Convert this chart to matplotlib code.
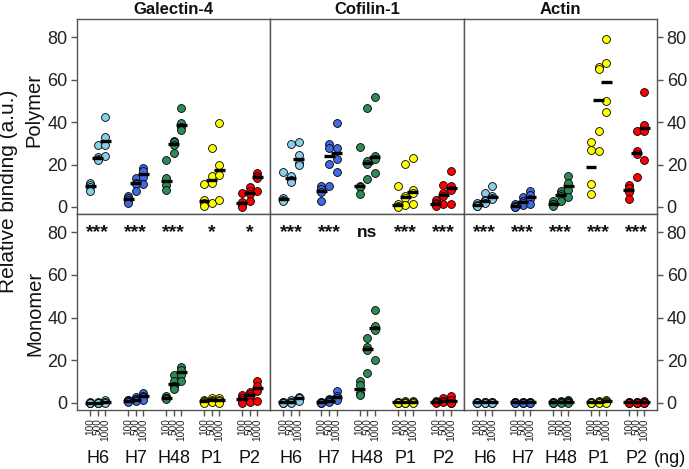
import numpy as np
import matplotlib
matplotlib.use("Agg")
import matplotlib.pyplot as plt

plt.rcParams['font.family'] = ['Liberation Sans', 'DejaVu Sans']

proteins = ["Galectin-4", "Cofilin-1", "Actin"]
groups = ["H6", "H7", "H48", "P1", "P2"]
doses = ["100", "500", "1000"]
colors = ["#87CEEB", "#4169E1", "#2E8B57", "#FFFF00", "#FF0000"]

# each panel: 15 entries (group x dose), 4 replicates each
gal4_polymer = [
    [11.5, 10.5, 9.5, 7.3], [29.2, 23.5, 22.5, 22.0], [42.5, 33.0, 29.0, 24.0],
    [5.3, 4.0, 3.5, 1.9], [13.6, 11.5, 11.0, 7.7], [18.3, 17.0, 14.2, 11.0],
    [22.0, 13.5, 10.5, 8.0], [31.0, 30.5, 29.0, 25.6], [46.7, 39.4, 37.8, 36.3],
    [10.9, 3.5, 1.9, 0.3], [27.7, 14.4, 11.3, 1.9], [39.4, 19.8, 15.2, 3.4],
    [6.6, 2.4, 1.0, 0.2], [9.2, 7.3, 6.3, 2.7], [15.9, 14.5, 13.5, 7.3],
]
cof1_polymer = [
    [16.4, 4.2, 3.4, 3.0], [29.7, 14.4, 12.8, 11.6], [30.8, 24.5, 20.5, 19.8],
    [9.7, 8.5, 7.0, 2.7], [29.7, 27.7, 20.3, 9.7], [39.4, 28.0, 22.5, 16.4],
    [28.4, 10.0, 9.4, 6.1], [46.7, 21.5, 20.3, 13.1], [51.6, 24.0, 22.6, 15.9],
    [9.7, 1.6, 0.6, 0.0], [20.2, 5.0, 4.4, 0.8], [23.0, 7.8, 6.7, 1.4],
    [3.4, 1.8, 1.4, 0.3], [10.5, 6.6, 5.0, 1.6], [17.0, 9.7, 8.1, 1.6],
]
actin_polymer = [
    [1.8, 1.0, 0.6, 0.3], [6.6, 3.2, 2.8, 2.0], [9.8, 5.0, 4.4, 3.9],
    [1.6, 0.5, 0.1, 0.0], [4.7, 2.7, 2.1, 1.1], [7.4, 5.5, 3.9, 1.6],
    [2.7, 1.6, 1.2, 0.6], [7.7, 6.2, 5.4, 2.8], [14.5, 11.5, 8.1, 4.6],
    [30.5, 27.0, 11.0, 6.0], [66.0, 65.0, 36.0, 26.5], [79.0, 68.0, 50.0, 44.5],
    [10.3, 8.8, 7.0, 3.8], [35.9, 26.2, 25.0, 14.1], [54.0, 38.8, 36.0, 22.0],
]
gal4_monomer = [
    [0.4, 0.2, 0.1, 0.0], [0.5, 0.2, 0.1, 0.0], [1.6, 0.6, 0.4, 0.1],
    [1.6, 1.2, 1.0, 0.5], [2.8, 1.8, 1.4, 1.0], [4.7, 3.4, 2.8, 1.6],
    [3.1, 2.5, 2.1, 1.9], [13.3, 10.1, 7.9, 6.7], [16.8, 15.6, 13.1, 10.1],
    [1.6, 1.0, 0.6, 0.2], [2.3, 1.4, 1.0, 0.3], [2.3, 1.3, 1.1, 0.0],
    [3.6, 2.2, 1.6, 0.0], [5.0, 4.3, 3.1, 0.3], [10.1, 8.1, 5.5, 0.8],
]
cof1_monomer = [
    [0.5, 0.3, 0.2, 0.1], [1.2, 0.6, 0.4, 0.2], [2.8, 2.4, 2.2, 0.8],
    [0.5, 0.3, 0.2, 0.0], [1.9, 1.2, 1.0, 0.6], [5.5, 3.4, 2.2, 1.6],
    [10.1, 8.3, 4.8, 3.6], [30.4, 26.0, 24.8, 14.0], [43.4, 35.9, 34.3, 20.3],
    [0.6, 0.3, 0.2, 0.1], [0.7, 0.4, 0.2, 0.1], [1.0, 0.5, 0.3, 0.1],
    [0.8, 0.4, 0.3, 0.1], [2.3, 1.0, 0.8, 0.3], [3.4, 1.6, 0.2, 0.0],
]
actin_monomer = [
    [0.5, 0.3, 0.2, 0.1], [0.5, 0.3, 0.2, 0.1], [0.5, 0.3, 0.2, 0.1],
    [0.5, 0.3, 0.2, 0.1], [0.5, 0.3, 0.2, 0.1], [0.5, 0.3, 0.2, 0.1],
    [0.5, 0.3, 0.2, 0.1], [0.8, 0.5, 0.3, 0.1], [1.2, 0.8, 0.5, 0.2],
    [0.5, 0.3, 0.2, 0.1], [0.8, 0.5, 0.3, 0.1], [1.6, 1.0, 0.5, 0.2],
    [0.5, 0.3, 0.2, 0.1], [0.6, 0.4, 0.2, 0.1], [0.7, 0.4, 0.2, 0.1],
]
sig_gal4 = ["***", "***", "***", "*", "*"]
sig_cof1 = ["***", "***", "ns", "***", "***"]
sig_actin = ["***", "***", "***", "***", "***"]

polymer = [gal4_polymer, cof1_polymer, actin_polymer]
monomer = [gal4_monomer, cof1_monomer, actin_monomer]
sigs = [sig_gal4, sig_cof1, sig_actin]

W, H = 689, 469
fig = plt.figure(figsize=(W / 100, H / 100), dpi=100)

frame_col = "#555555"
lefts = [77, 270, 464]
rights = [270, 464, 657]
rows = [(19, 214), (214, 410)]
xlim = (-1.75, 23.7)
ylim = (-3.3, 88.5)

def xpos(g, d):
    return 5 * g + d

for r, (ytop, ybot) in enumerate(rows):
    for c in range(3):
        ax = fig.add_axes([lefts[c] / W, 1 - ybot / H, (rights[c] - lefts[c]) / W, (ybot - ytop) / H])
        ax.set_xlim(*xlim)
        ax.set_ylim(*ylim)
        for s in ax.spines.values():
            s.set_color(frame_col)
            s.set_linewidth(1.0)
        data = polymer[c] if r == 0 else monomer[c]
        for g in range(5):
            for d in range(3):
                vals = data[g * 3 + d]
                x = xpos(g, d)
                ax.scatter([x] * len(vals), vals, s=32, c=colors[g], edgecolors="black",
                           linewidths=0.6, zorder=3, clip_on=False)
                med = np.median(vals)
                ax.plot([x - 0.72, x + 0.72], [med, med], color="black", lw=2.4,
                        solid_capstyle="butt", zorder=4)
        yt = [0, 20, 40, 60, 80]
        ax.set_yticks(yt)
        ax.set_yticklabels([str(v) for v in yt])
        ax.tick_params(axis="y", colors=frame_col, labelcolor="#222222", labelsize=13,
                       length=4, width=1, direction="out", pad=3)
        if c == 0:
            ax.tick_params(axis="y", left=True, labelleft=True, right=False, labelright=False)
        elif c == 2:
            ax.tick_params(axis="y", left=False, labelleft=False, right=True, labelright=True)
        else:
            ax.tick_params(axis="y", left=False, labelleft=False)
        xt = [xpos(g, d) for g in range(5) for d in range(3)]
        if r == 1:
            ax.set_xticks(xt)
            ax.set_xticklabels(doses * 5, rotation=90, fontsize=7.2, color="#222222")
            ax.tick_params(axis="x", colors=frame_col, labelcolor="#222222", length=4,
                           width=1, pad=2)
            for g in range(5):
                ax.text(xpos(g, 1), 80, sigs[c][g], ha="center", va="center",
                        fontsize=14 if sigs[c][g] != "ns" else 12.5,
                        fontweight="bold", color="#111111")
            for g in range(5):
                xd = ax.transData.transform((xpos(g, 1), 0))[0]
                fig.text(xd / W, 1 - 458 / H, groups[g], ha="center", va="center",
                         fontsize=13, color="#111111")
        else:
            ax.set_xticks([])
            fig.text((lefts[c] + rights[c]) / 2 / W, 1 - 9 / H, proteins[c], ha="center",
                     va="center", fontsize=12, fontweight="bold", color="#111111")

fig.text(670 / W, 1 - 458 / H, "(ng)", ha="center", va="center", fontsize=13, color="#111111")
fig.text(9 / W, 1 - 191 / H, "Relative binding (a.u.)", rotation=90, ha="center", va="center",
         fontsize=15, color="#111111")
fig.text(34 / W, 1 - 110 / H, "Polymer", rotation=90, ha="center", va="center",
         fontsize=14.5, color="#111111")
fig.text(35 / W, 1 - 313 / H, "Monomer", rotation=90, ha="center", va="center",
         fontsize=14.5, color="#111111")

fig.savefig("out.png", dpi=100)
